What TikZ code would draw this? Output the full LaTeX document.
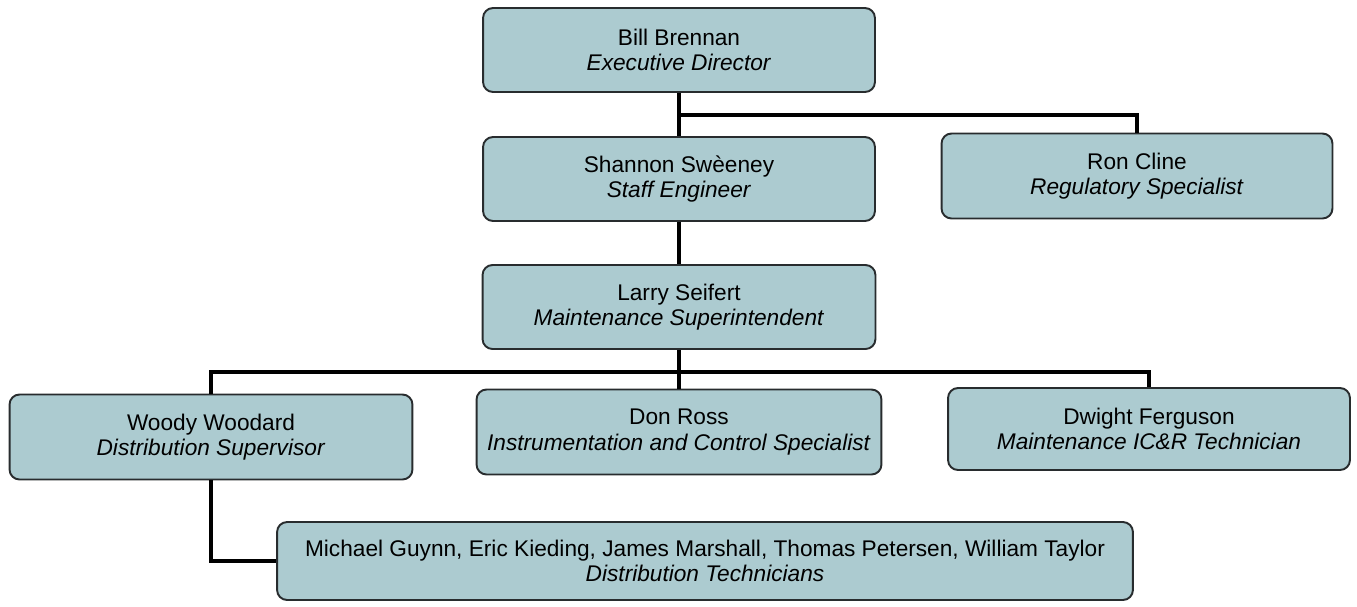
\documentclass[tikz,border=0pt]{standalone}
\usepackage{fontspec}
\setmainfont{Liberation Sans}
\definecolor{boxfill}{RGB}{172,203,208}
\definecolor{boxline}{RGB}{40,44,46}
\tikzset{
  post/.style={draw=boxline, line width=1.1pt, fill=boxfill, rounded corners=0.2cm,
    align=center, inner sep=0pt, font=\fontsize{12.9}{14.5}\selectfont},
  link/.style={line width=2.7pt, black}
}
\begin{document}
\begin{tikzpicture}[x=0.02cm, y=-0.02cm]
  \useasboundingbox (0,0) rectangle (1357,606);
  % Top of the chart
  \node [post, minimum width=7.84cm, minimum height=1.68cm] (bill) at (679,50) {Bill Brennan\\\textit{Executive Director}};
  \node [post, minimum width=7.84cm, minimum height=1.68cm] (shannon) at (679,179) {Shannon Swèeney\\\textit{Staff Engineer}};
  \node [post, minimum width=7.82cm, minimum height=1.70cm] (ron) at (1137,176) {Ron Cline\\\textit{Regulatory Specialist}};
  \node [post, minimum width=7.86cm, minimum height=1.68cm] (larry) at (679,307) {Larry Seifert\\\textit{Maintenance Superintendent}};
  % Second level
  \node [post, minimum width=8.06cm, minimum height=1.70cm] (woody) at (211,437) {Woody Woodard\\\textit{Distribution Supervisor}};
  \node [post, minimum width=8.10cm, minimum height=1.70cm] (don) at (679,432) {Don Ross\\\textit{Instrumentation and Control Specialist}};
  \node [post, minimum width=8.04cm, minimum height=1.64cm] (dwight) at (1149,429) {Dwight Ferguson\\\textit{Maintenance IC\&R Technician}};
  \node [post, minimum width=17.12cm, minimum height=1.56cm] (tech) at (705,561) {Michael Guynn, Eric Kieding, James Marshall, Thomas Petersen, William Taylor\\\textit{Distribution Technicians}};
  % Connectors
  \coordinate (split1) at (679,115);
  \coordinate (split2) at (679,372);
  \draw [link] (bill.south) -- (shannon.north);
  \draw [link] (split1) -| (ron.north);
  \draw [link] (shannon.south) -- (larry.north);
  \draw [link] (larry.south) -- (don.north);
  \draw [link] (woody.north) |- (split2) -| (dwight.north);
  \draw [link] (woody.south) |- (tech.west);
\end{tikzpicture}
\end{document}
